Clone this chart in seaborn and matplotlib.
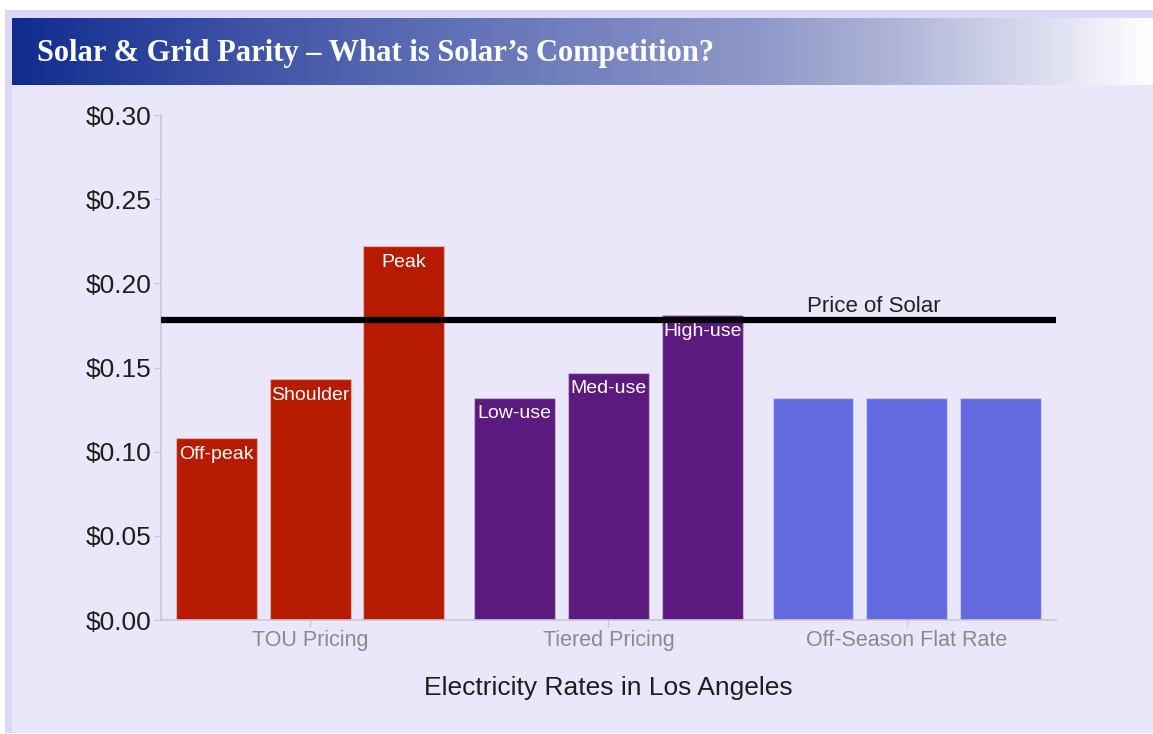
import matplotlib
matplotlib.use("Agg")
import matplotlib.pyplot as plt
import numpy as np
import pandas as pd
import seaborn as sns
from matplotlib.colors import LinearSegmentedColormap
from matplotlib.patches import Rectangle
from matplotlib.ticker import FuncFormatter


GROUPS = ["TOU Pricing", "Tiered Pricing", "Off-Season Flat Rate"]
SLOTS = ["1", "2", "3"]
VALUES = [
    [0.108, 0.143, 0.222],
    [0.132, 0.147, 0.181],
    [0.132, 0.132, 0.132],
]
BAR_LABELS = [
    ["Off-peak", "Shoulder", "Peak"],
    ["Low-use", "Med-use", "High-use"],
    ["", "", ""],
]
GROUP_COLORS = ["#B61B00", "#5B1A7E", "#636AE0"]
SOLAR_PRICE = 0.178
Y_TICKS = [0.00, 0.05, 0.10, 0.15, 0.20, 0.25, 0.30]

TITLE = "Solar & Grid Parity \u2013 What is Solar\u2019s Competition?"
X_LABEL = "Electricity Rates in Los Angeles"
SOLAR_LABEL = "Price of Solar"


def build_frame() -> pd.DataFrame:
    rows = []
    for g, group in enumerate(GROUPS):
        for s, slot in enumerate(SLOTS):
            rows.append({"group": group, "slot": slot, "value": VALUES[g][s]})
    return pd.DataFrame(rows)


def draw_background(fig) -> None:
    W, H = 1153, 734
    bg = fig.add_axes([0, 0, 1, 1], zorder=-10)
    bg.set_xlim(0, W)
    bg.set_ylim(H, 0)
    bg.axis("off")
    bg.add_patch(Rectangle((5, 10), W - 5, 723, color="#DAD8F4", lw=0))
    bg.add_patch(Rectangle((12, 18), W - 12, 715, color="#EAE7FA", lw=0))
    # title bar gradient
    cmap = LinearSegmentedColormap.from_list(
        "bar",
        [
            (0.0, "#0F2C8E"),
            (0.20, "#3E52A6"),
            (0.42, "#6676B8"),
            (0.65, "#8E97C7"),
            (0.78, "#B0B6D8"),
            (0.88, "#D3D5EA"),
            (1.0, "#FFFFFF"),
        ],
    )
    grad = np.linspace(0, 1, 512).reshape(1, -1)
    bg.imshow(grad, cmap=cmap, aspect="auto", extent=(12, W, 85, 18), zorder=1)
    bg.text(
        37, 54, TITLE, color="white", fontsize=22, fontweight="bold",
        family=["Liberation Serif", "DejaVu Serif"], va="center", ha="left", zorder=2,
    )


def main() -> None:
    sns.set_theme(style="white")
    plt.rcParams["font.family"] = ["Liberation Sans", "DejaVu Sans"]

    df = build_frame()
    fig = plt.figure(figsize=(11.53, 7.34), dpi=100)
    fig.patch.set_facecolor("white")
    draw_background(fig)

    ax = fig.add_axes([0.1396, 0.1553, 0.7762, 0.688])
    ax.set_facecolor("none")
    sns.barplot(
        data=df, x="group", y="value", hue="slot", order=GROUPS, hue_order=SLOTS,
        width=0.943, gap=0.138, legend=False, ax=ax, errorbar=None,
    )

    for s, container in enumerate(ax.containers):
        for g, bar in enumerate(container):
            bar.set_facecolor(GROUP_COLORS[g])
            bar.set_edgecolor((1, 1, 1, 0.35))
            bar.set_linewidth(1)
            label = BAR_LABELS[g][s]
            if label:
                ax.annotate(
                    label,
                    (bar.get_x() + bar.get_width() / 2, bar.get_height()),
                    xytext=(0, -16), textcoords="offset pixels",
                    ha="center", va="center", color="white", fontsize=14,
                )

    ax.hlines(SOLAR_PRICE, -0.5, 2.5, color="black", lw=4.5, zorder=5)
    ax.text(1.89, SOLAR_PRICE + 0.002, SOLAR_LABEL, ha="center", va="bottom",
            fontsize=16, color="#222222")

    ax.set_xlim(-0.5, 2.5)
    ax.set_ylim(0, 0.30)
    ax.set_yticks(Y_TICKS)
    ax.yaxis.set_major_formatter(FuncFormatter(lambda v, _: f"\\${v:.2f}"))
    ax.set_xlabel(X_LABEL, fontsize=19, color="#1f1f1f", labelpad=18)
    ax.set_ylabel("")

    for side in ["top", "right"]:
        ax.spines[side].set_visible(False)
    for side in ["left", "bottom"]:
        ax.spines[side].set_color("#C9C7D8")
        ax.spines[side].set_linewidth(1.2)
    ax.tick_params(axis="y", left=True, length=5, width=1, color="#C9C7D8",
                   labelsize=19, labelcolor="#1f1f1f", pad=2)
    ax.tick_params(axis="x", bottom=True, length=5, width=1, color="#C9C7D8",
                   labelsize=15.5, labelcolor="#8a8a8a", pad=2)

    fig.savefig("out.png", dpi=100)
    plt.close(fig)


if __name__ == "__main__":
    main()
